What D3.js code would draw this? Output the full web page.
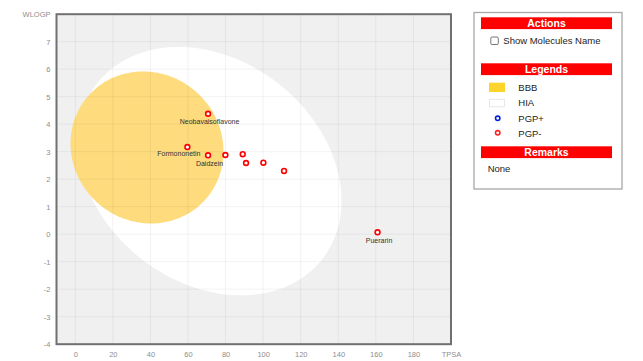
<!DOCTYPE html>
<html><head><meta charset="utf-8">
<script src="https://cdn.jsdelivr.net/npm/d3@7"></script>
<style>
body{margin:0;background:#fff;}
svg{display:block;font-family:Arial,"Liberation Sans",sans-serif;}
</style>
</head><body>
<svg id="chart" width="643" height="361"></svg>
<script>
// ---- data ----
const molecules = ["Neobavaisoflavone","Formononetin","Daidzein","","","","","","Puerarin"];
const tpsa      = [70.67, 59.67, 70.67, 79.90, 89.13, 90.90, 100.13, 111.13, 160.90];
const wlogp     = [4.38, 3.17, 2.87, 2.88, 2.91, 2.59, 2.60, 2.30, 0.07];
const pgpClass  = ["-","-","-","-","-","-","-","-","-"];
const xTicks = [0,20,40,60,80,100,120,140,160,180];
const yTicks = [-4,-3,-2,-1,0,1,2,3,4,5,6,7];
const xName = "TPSA", yName = "WLOGP";
// egg regions (data units): centre, half extents, skew angle
const eggNames  = ["HIA","BBB"];
const eggCx     = [71.6, 38.17];
const eggCy     = [2.292, 3.153];
const eggRx     = [70.1, 40.72];
const eggRy     = [4.516, 2.764];
const eggSkew   = [-0.24, -0.052];
const legendNames = ["BBB","HIA","PGP+","PGP-"];
const panelTitles = ["Actions","Legends","Remarks"];

// ---- drawing ----
const svg = d3.select("#chart");
const P = {l:56.5, r:451, t:14.2, b:344.2};
const x = d3.scaleLinear().domain([-10,200]).range([P.l,P.r]);
const y = d3.scaleLinear().domain([-4,8]).range([P.b,P.t]);

svg.append("rect").attr("x",P.l).attr("y",P.t).attr("width",P.r-P.l).attr("height",P.b-P.t).attr("fill","#f0f0f0");

const eggColor = {HIA:"#ffffff", BBB:"#fedb7c"};
const line = d3.line().x(d=>x(d[0])).y(d=>y(d[1])).curve(d3.curveLinearClosed);
eggNames.forEach((n,i)=>{
  const pts = d3.range(0,360,2).map(a=>{
    const t = a*Math.PI/180;
    return [eggCx[i]+eggRx[i]*Math.cos(t), eggCy[i]+eggRy[i]*Math.sin(t+eggSkew[i])];
  });
  svg.append("path").attr("d",line(pts)).attr("fill",eggColor[n]);
});

// grid
const g = svg.append("g");
xTicks.forEach(v=>g.append("line").attr("x1",x(v)).attr("x2",x(v)).attr("y1",P.t).attr("y2",P.b)
  .attr("stroke","#000").attr("stroke-opacity",0.05));
yTicks.forEach(v=>g.append("line").attr("x1",P.l).attr("x2",P.r).attr("y1",y(v)).attr("y2",y(v))
  .attr("stroke","#000").attr("stroke-opacity",0.05));

// axes labels
const xAxis = d3.axisBottom(x).tickValues(xTicks.concat([200])).tickSize(0).tickPadding(7)
  .tickFormat(d=>d===200?xName:d);
const ax = svg.append("g").attr("transform",`translate(0,${P.b})`).call(xAxis);
const yAxis = d3.axisLeft(y).tickValues(yTicks.concat([8])).tickSize(0).tickPadding(6)
  .tickFormat(d=>d===8?yName:d);
const ay = svg.append("g").attr("transform",`translate(${P.l},0)`).call(yAxis);
[ax,ay].forEach(a=>{
  a.select(".domain").remove();
  a.selectAll("text").attr("fill","#8e8e8e").style("font-size","7.5px").style("font-family","Arial,'Liberation Sans',sans-serif");
});

// points
const pColor = {"+":"#0000ff","-":"#ff0000"};
svg.append("g").selectAll("circle").data(tpsa).join("circle")
  .attr("cx",(d,i)=>x(d)).attr("cy",(d,i)=>y(wlogp[i])).attr("r",2.4)
  .attr("fill","#fff").attr("stroke",(d,i)=>pColor[pgpClass[i]]).attr("stroke-width",1.6);

const labelShift = {Formononetin:[-8.5,-1.5]};
svg.append("g").selectAll("text").data(molecules).join("text")
  .attr("x",(d,i)=>x(tpsa[i])+((labelShift[d]||[1.5,0])[0]))
  .attr("y",(d,i)=>y(wlogp[i])+10.5+((labelShift[d]||[0,0])[1]))
  .attr("text-anchor","middle").attr("fill","#333").style("font-size","7px").text(d=>d);

// frame
svg.append("rect").attr("x",P.l).attr("y",P.t).attr("width",P.r-P.l).attr("height",P.b-P.t)
  .attr("fill","none").attr("stroke","#707070").attr("stroke-width",2);

// ---- side panel ----
const sp = svg.append("g");
sp.append("rect").attr("x",474).attr("y",12.5).attr("width",148).attr("height",176.5)
  .attr("fill","#fff").attr("stroke","#a8a8a8").attr("stroke-width",1.3);
const barY = [17.3,63.3,146.3];
panelTitles.forEach((t,i)=>{
  sp.append("rect").attr("x",481).attr("y",barY[i]).attr("width",131).attr("height",11.8).attr("fill","#ff0000");
  sp.append("text").attr("x",546.5).attr("y",barY[i]+9.9).attr("text-anchor","middle")
    .attr("fill","#fff").style("font-size","10.5px").style("font-weight","bold").text(t);
});
sp.append("rect").attr("x",490.8).attr("y",37).attr("width",7.5).attr("height",7.5).attr("rx",1.2)
  .attr("fill","#fff").attr("stroke","#666").attr("stroke-width",0.9);
sp.append("text").attr("x",503.3).attr("y",44.4).attr("fill","#222").style("font-size","9.5px").text("Show Molecules Name");

const legY = [91,106.3,121.7,136.6];
legendNames.forEach((n,i)=>{
  if(n==="BBB") sp.append("rect").attr("x",489).attr("y",82.7).attr("width",16).attr("height",9.3).attr("fill","#fdd42c");
  if(n==="HIA") sp.append("rect").attr("x",489.5).attr("y",99.3).attr("width",15).attr("height",7.5).attr("fill","#fff").attr("stroke","#e2e2e2").attr("stroke-width",0.8);
  if(n==="PGP+") sp.append("circle").attr("cx",497.7).attr("cy",118.3).attr("r",2.2).attr("fill","#fff").attr("stroke","#0022dd").attr("stroke-width",1.6);
  if(n==="PGP-") sp.append("circle").attr("cx",497.7).attr("cy",132.8).attr("r",2.2).attr("fill","#fff").attr("stroke","#ff2222").attr("stroke-width",1.6);
  sp.append("text").attr("x",518.3).attr("y",legY[i]).attr("fill","#222").style("font-size","9.5px").text(n);
});
sp.append("text").attr("x",487.7).attr("y",171.7).attr("fill","#222").style("font-size","9.5px").text("None");
</script>
</body></html>
